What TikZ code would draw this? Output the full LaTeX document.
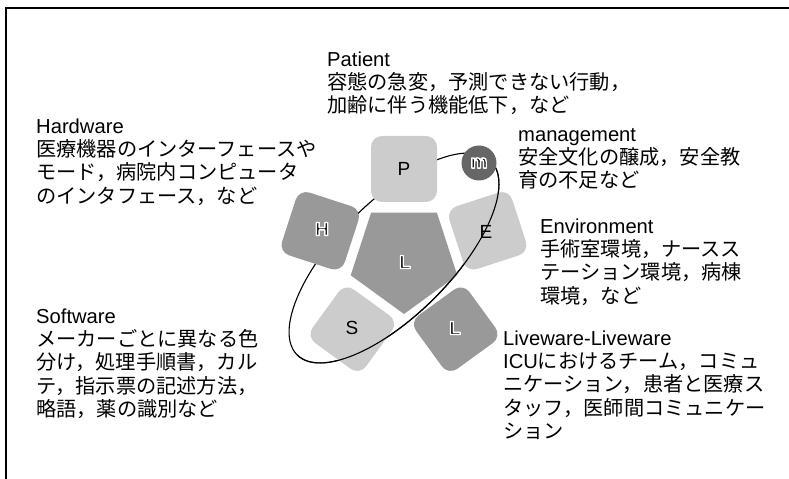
\documentclass[tikz,border=0pt]{standalone}
\usepackage{fontspec}
\setmainfont{Liberation Sans}
\newfontfamily\jp{Noto Sans CJK JP}
\definecolor{lightg}{HTML}{CCCCCC}
\definecolor{midg}{HTML}{999999}
\definecolor{darkg}{HTML}{666666}
% white rim round a black letter: fill and stroke text render mode
\newcommand\hl[1]{{\bfseries\special{pdf:code 1 1 1 RG 1.4 w 1 j 2 Tr}#1\special{pdf:code 0 Tr 0 0 0 RG}}}
\begin{document}
\begin{tikzpicture}[x=1bp,y=-1bp,
  sq/.style={shape=rectangle, draw=none, rounded corners=11bp, minimum size=66bp, inner sep=0pt},
  lbl/.style={inner sep=0pt, font=\fontsize{19bp}{22bp}\selectfont},
  txt/.style={anchor=north west, inner sep=0pt, align=left, font=\fontsize{20.2bp}{23.3bp}\selectfont},
  orbit/.style={draw=black, line width=1.1bp}]
\useasboundingbox (0,0) rectangle (789,479);
\draw[line width=1.5bp, line join=miter] (6,479) -- (6,8) -- (789,8);

\coordinate (c) at (404,258);
\coordinate (ec) at (394,258);
% back half of the orbit
\draw[orbit, rotate around={45:(ec)}] (ec) ellipse [x radius=137bp, y radius=57bp];

% shapes
\node[sq, fill=lightg] (P) at (404,169) {};
\node[sq, fill=midg, rotate=72] (H) at (320.3,230.8) {};
\node[sq, fill=lightg, rotate=-72] (E) at (487.7,230.8) {};
\node[sq, fill=lightg, rotate=144] (S) at (352.3,329.2) {};
\node[sq, fill=midg, rotate=216] (L2) at (455.7,329.2) {};
\fill[midg] (436.9,212.7) -- (371.1,212.7) -- (350.7,275.3) -- (404,314) -- (457.3,275.3) -- cycle;

% front half of the orbit
\begin{scope}
\clip (0,652) -- (652,0) -- (1200,0) -- (1200,1200) -- (0,1200) -- cycle;
\draw[orbit, rotate around={45:(ec)}] (ec) ellipse [x radius=137bp, y radius=57bp];
\end{scope}

\node[circle, fill=darkg, minimum size=35bp, inner sep=0pt] (M) at (479,163) {};

% labels
\node[lbl] (tP) at (404,169) {P};
\node[lbl] (tH) at (322,229) {\hl{H}};
\node[lbl] (tE) at (486,232) {E};
\node[lbl] (tS) at (352,328) {S};
\node[lbl] (tL) at (405,262) {\hl{L}};
\node[lbl] (tL2) at (455,328) {\hl{L}};
\node[lbl] (tm) at (M) {\hl{m}};

% text blocks
\node[txt] (patient) at (327,51) {\rule{0pt}{15bp}Patient\\{\jp 容態の急変，予測できない行動，}\\{\jp 加齢に伴う機能低下，など}};
\node[txt] (hardware) at (36,118) {\rule{0pt}{15bp}Hardware\\{\jp 医療機器のインターフェースや}\\{\jp モード，病院内コンピュータ}\\{\jp のインタフェース，など}};
\node[txt] (management) at (518,126) {\rule{0pt}{15bp}management\\{\jp 安全文化の醸成，安全教}\\{\jp 育の不足など}};
\node[txt] (environment) at (540,218) {\rule{0pt}{15bp}Environment\\{\jp 手術室環境，ナースス}\\{\jp テーション環境，病棟}\\{\jp 環境，など}};
\node[txt] (software) at (36,308) {\rule{0pt}{15bp}Software\\{\jp メーカーごとに異なる色}\\{\jp 分け，処理手順書，カル}\\{\jp テ，指示票の記述方法，}\\{\jp 略語，薬の識別など}};
\node[txt] (liveware) at (503,330) {\rule{0pt}{15bp}Liveware-Liveware\\ICU{\jp におけるチーム，コミュ}\\{\jp ニケーション，患者と医療ス}\\{\jp タッフ，医師間コミュニケー}\\{\jp ション}};
\end{tikzpicture}
\end{document}
